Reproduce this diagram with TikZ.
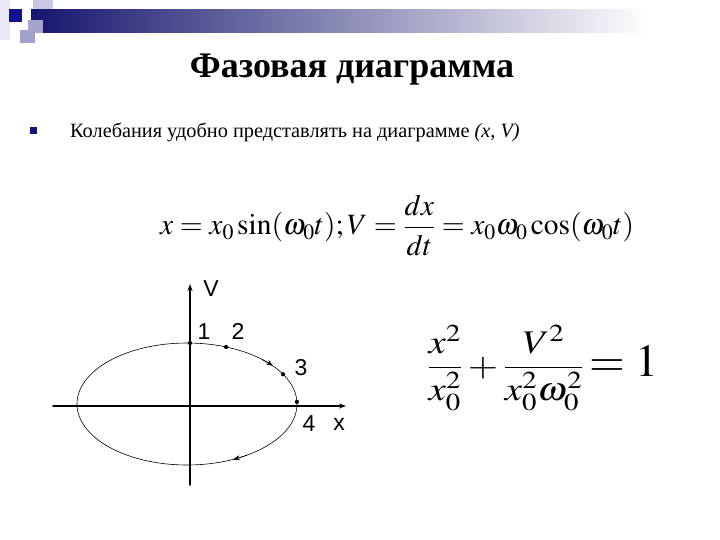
\documentclass[tikz,border=0pt]{standalone}
\usepackage{mathptmx}
\usepackage[no-math]{fontspec}
\setmainfont{Liberation Serif}
\setsansfont{Liberation Sans}
\usetikzlibrary{arrows.meta}
\definecolor{navy}{RGB}{22,22,110}
\definecolor{deepblue}{RGB}{18,18,140}
\definecolor{pale}{RGB}{232,232,246}
\definecolor{lav}{RGB}{200,200,228}
\definecolor{midlav}{RGB}{160,160,205}
\definecolor{bullet}{RGB}{20,20,120}
\begin{document}
\begin{tikzpicture}[x=1pt,y=-1pt,line cap=round,line join=round,
  >={Stealth[length=7pt,width=5pt]},
  axis/.style={line width=1.4pt},
  orbit/.style={line width=0.6pt},
  dot/.style={circle,fill,inner sep=0pt,minimum size=4.2pt},
  lbl/.style={font=\sffamily\fontsize{23}{23}\selectfont,inner sep=0pt},
  formula/.style={inner sep=0pt,font=\fontsize{29.5}{29.5}\selectfont}]
\useasboundingbox (0,0) rectangle (720,540);
\fill[white] (0,0) rectangle (720,540);

% header strip
\fill[pale] (0,0) rectangle (10,40);
\fill[lav] (33,0) rectangle (53,22);
\fill[midlav] (20,30) rectangle (35,43);
\shade[left color=navy,right color=white] (31,10) rectangle (650,33);
\fill[lav!80!navy] (28,20) rectangle (43,33);
\fill[deepblue] (9,9) rectangle (22,22);

% title and text
\node[anchor=base,inner sep=0pt,font=\bfseries\fontsize{36}{36}\selectfont] (title) at (352,78) {Фазовая диаграмма};
\node[fill=bullet,inner sep=0pt,minimum size=7pt] (bul) at (33,131) {};
\node[anchor=base west,inner sep=0pt,font=\fontsize{20.3}{20.3}\selectfont] (intro) at (70,138)
  {Колебания удобно представлять на диаграмме \textit{(x, V)}};

% formulas
\node[formula,anchor=base west] (eq1) at (160,235)
  {$x=x_0\sin(\omega_0t);V=\displaystyle\frac{dx}{dt}=x_0\omega_0\cos(\omega_0t)$};
\node[formula,anchor=base west,font=\fontsize{33}{33}\selectfont] (eq2) at (427,376)
  {\scalebox{1.18}[1]{$\displaystyle\frac{x^2}{x_0^2}+\frac{V^2}{x_0^2\omega_0^2}$}\,{\fontsize{46}{46}\selectfont$=1$}};

% axes
\coordinate (xl) at (53,406);
\coordinate (xr) at (346,406);
\coordinate (vb) at (190,485);
\coordinate (vt) at (190,284);
\draw[axis,->] (xl) -- (xr);
\draw[axis,->] (vb) -- (vt);

% phase trajectory
\coordinate (c) at (187,404);
\draw[orbit] (c) ellipse [x radius=110,y radius=61];
\draw[orbit,->] ([shift={(-47:110 and 61)}]c) arc[start angle=-47,end angle=-38.6,x radius=110,y radius=61];
\draw[orbit,->] ([shift={(57:110 and 61)}]c) arc[start angle=57,end angle=65.3,x radius=110,y radius=61];

\node[dot] (p1) at ([shift={(-88.4:110 and 61)}]c) {};
\node[dot] (p2) at ([shift={(-69.2:110 and 61)}]c) {};
\node[dot] (p3) at ([shift={(-29.2:110 and 61)}]c) {};
\node[dot] (p4) at ([shift={(-2:110 and 61)}]c) {};

\node[lbl] (lv) at (211,289) {V};
\node[lbl] (l1) at (204,332) {1};
\node[lbl] (l2) at (238,331) {2};
\node[lbl] (l3) at (301,368) {3};
\node[lbl] (l4) at (309,424) {4};
\node[lbl] (lx) at (339,424) {x};
\end{tikzpicture}
\end{document}
